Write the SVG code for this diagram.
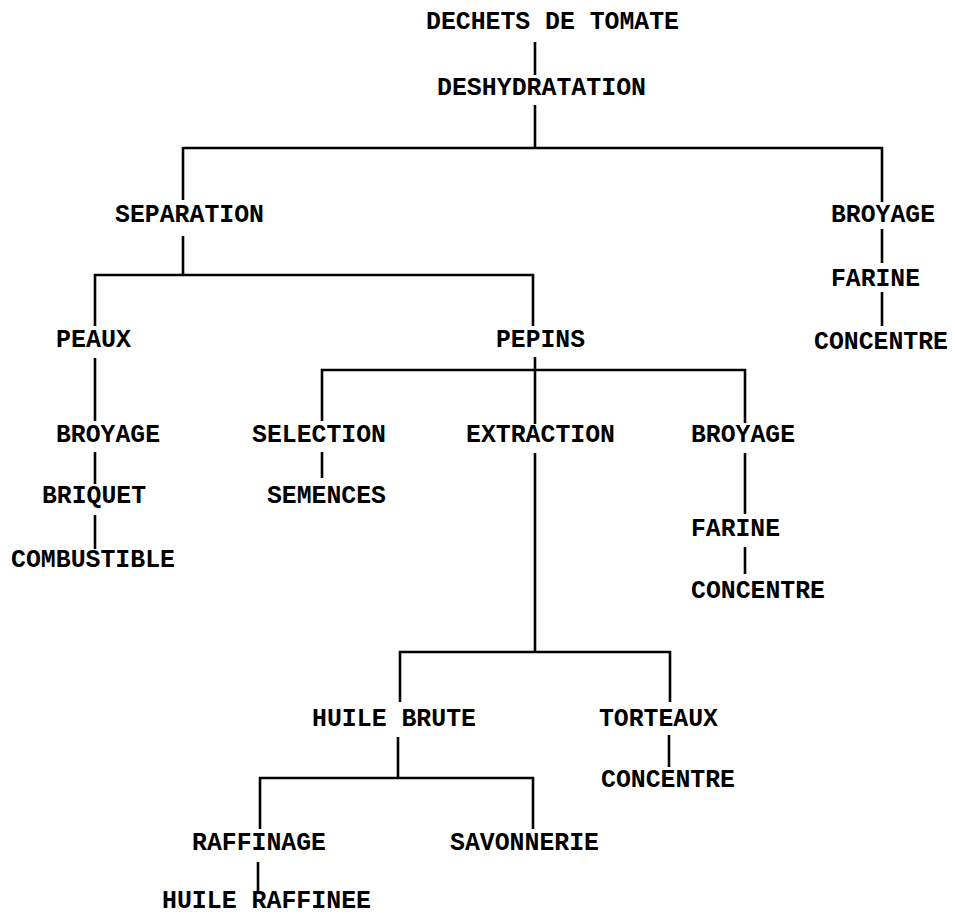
<svg xmlns="http://www.w3.org/2000/svg" width="955" height="916" viewBox="0 0 955 916">
<style>
text{font-family:"Liberation Mono","DejaVu Sans Mono",monospace;font-weight:bold;font-size:25.5px;fill:#000}
.c line{stroke:#000;stroke-width:2.6;stroke-linecap:butt}
</style>
<rect width="955" height="916" fill="#fff"/>
<g class="c" id="connectors">
<line x1="535" y1="42" x2="535" y2="75"/>
<line x1="535" y1="105" x2="535" y2="149"/>
<line x1="183" y1="148" x2="883" y2="148"/>
<line x1="183" y1="147" x2="183" y2="200"/>
<line x1="882" y1="147" x2="882" y2="202"/>
<line x1="882" y1="229" x2="882" y2="263"/>
<line x1="882" y1="292" x2="882" y2="326"/>
<line x1="183" y1="236" x2="183" y2="276"/>
<line x1="94" y1="275" x2="534" y2="275"/>
<line x1="95" y1="274" x2="95" y2="326"/>
<line x1="533" y1="274" x2="533" y2="326"/>
<line x1="95" y1="358" x2="95" y2="421"/>
<line x1="95" y1="452" x2="95" y2="484"/>
<line x1="95" y1="515" x2="95" y2="549"/>
<line x1="535" y1="357" x2="535" y2="424"/>
<line x1="321" y1="370" x2="746" y2="370"/>
<line x1="322" y1="369" x2="322" y2="421"/>
<line x1="745" y1="369" x2="745" y2="423"/>
<line x1="322" y1="452" x2="322" y2="478"/>
<line x1="535" y1="453" x2="535" y2="653"/>
<line x1="745" y1="453" x2="745" y2="514"/>
<line x1="745" y1="547" x2="745" y2="574"/>
<line x1="399" y1="652" x2="671" y2="652"/>
<line x1="400" y1="651" x2="400" y2="702"/>
<line x1="670" y1="651" x2="670" y2="702"/>
<line x1="669" y1="735" x2="669" y2="767"/>
<line x1="398" y1="737" x2="398" y2="779"/>
<line x1="259" y1="778" x2="534" y2="778"/>
<line x1="260" y1="777" x2="260" y2="829"/>
<line x1="533" y1="777" x2="533" y2="829"/>
<line x1="258" y1="862" x2="258" y2="892"/>
</g>
<g id="n-dechets"><text x="426" y="29" textLength="253" lengthAdjust="spacingAndGlyphs">DECHETS DE TOMATE</text></g>
<g id="n-deshydratation"><text x="437" y="95" textLength="209" lengthAdjust="spacingAndGlyphs">DESHYDRATATION</text></g>
<g id="n-separation"><text x="115" y="222" textLength="149" lengthAdjust="spacingAndGlyphs">SEPARATION</text></g>
<g id="n-broyage-r"><text x="831" y="222" textLength="104" lengthAdjust="spacingAndGlyphs">BROYAGE</text></g>
<g id="n-farine-r"><text x="831" y="286" textLength="89" lengthAdjust="spacingAndGlyphs">FARINE</text></g>
<g id="n-concentre-r"><text x="814" y="349" textLength="134" lengthAdjust="spacingAndGlyphs">CONCENTRE</text></g>
<g id="n-peaux"><text x="56" y="347" textLength="75" lengthAdjust="spacingAndGlyphs">PEAUX</text></g>
<g id="n-pepins"><text x="496" y="347" textLength="89" lengthAdjust="spacingAndGlyphs">PEPINS</text></g>
<g id="n-broyage-l"><text x="56" y="442" textLength="104" lengthAdjust="spacingAndGlyphs">BROYAGE</text></g>
<g id="n-briquet"><text x="42" y="503" textLength="104" lengthAdjust="spacingAndGlyphs">BRIQUET</text></g>
<g id="n-combustible"><text x="11" y="567" textLength="164" lengthAdjust="spacingAndGlyphs">COMBUSTIBLE</text></g>
<g id="n-selection"><text x="252" y="442" textLength="134" lengthAdjust="spacingAndGlyphs">SELECTION</text></g>
<g id="n-semences"><text x="267" y="503" textLength="119" lengthAdjust="spacingAndGlyphs">SEMENCES</text></g>
<g id="n-extraction"><text x="466" y="442" textLength="149" lengthAdjust="spacingAndGlyphs">EXTRACTION</text></g>
<g id="n-broyage-m"><text x="691" y="442" textLength="104" lengthAdjust="spacingAndGlyphs">BROYAGE</text></g>
<g id="n-farine-m"><text x="691" y="536" textLength="89" lengthAdjust="spacingAndGlyphs">FARINE</text></g>
<g id="n-concentre-m"><text x="691" y="598" textLength="134" lengthAdjust="spacingAndGlyphs">CONCENTRE</text></g>
<g id="n-huile-brute"><text x="312" y="726" textLength="164" lengthAdjust="spacingAndGlyphs">HUILE BRUTE</text></g>
<g id="n-torteaux"><text x="599" y="726" textLength="119" lengthAdjust="spacingAndGlyphs">TORTEAUX</text></g>
<g id="n-concentre-b"><text x="601" y="787" textLength="134" lengthAdjust="spacingAndGlyphs">CONCENTRE</text></g>
<g id="n-raffinage"><text x="192" y="850" textLength="134" lengthAdjust="spacingAndGlyphs">RAFFINAGE</text></g>
<g id="n-savonnerie"><text x="450" y="850" textLength="149" lengthAdjust="spacingAndGlyphs">SAVONNERIE</text></g>
<g id="n-huile-raffinee"><text x="162" y="908" textLength="209" lengthAdjust="spacingAndGlyphs">HUILE RAFFINEE</text></g>
</svg>
